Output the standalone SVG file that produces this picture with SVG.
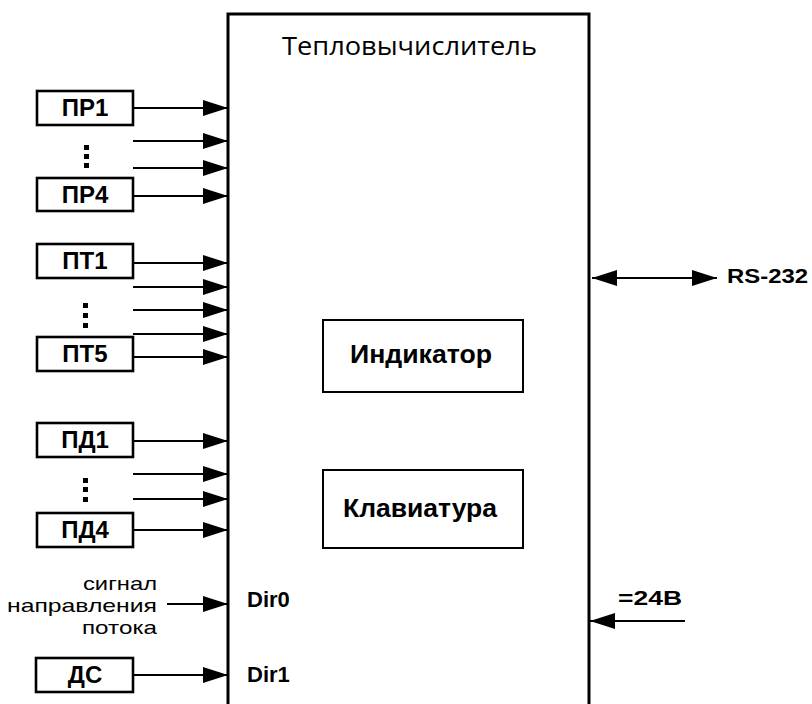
<svg xmlns="http://www.w3.org/2000/svg" width="812" height="704" viewBox="0 0 812 704">
<defs>
<marker id="ah" markerUnits="userSpaceOnUse" markerWidth="26" markerHeight="18" refX="25" refY="8" orient="auto-start-reverse" viewBox="0 0 26 16">
<path d="M0,0 L25,8 L0,16 Z" fill="#000"/>
</marker>
<style>
.box{fill:#fff;stroke:#000;stroke-width:2.6}
.ibox{fill:#fff;stroke:#000;stroke-width:2}
.main{fill:#fff;stroke:#000;stroke-width:3}
.lbl{font-family:"Liberation Sans",Arial,sans-serif;font-weight:bold;font-size:24px;fill:#000;text-anchor:middle}
.blbl{font-family:"Liberation Sans",Arial,sans-serif;font-weight:bold;font-size:21px;fill:#000}
.title{font-family:"Open Sans","Noto Sans",sans-serif;font-size:25px;fill:#000;text-anchor:middle}
.sig{font-family:"Liberation Sans",Arial,sans-serif;font-size:19px;fill:#000;text-anchor:end}
.c{fill:none;stroke:#000;stroke-width:1.8;marker-end:url(#ah)}
.dot{fill:#000}
</style>
</defs>
<g id="main">
<path class="main" d="M228,720 L228,14 L589,14 L589,720"/>
<text class="title" x="409.5" y="55" textLength="255" lengthAdjust="spacingAndGlyphs">Тепловычислитель</text>
<text class="blbl" x="247" y="607" style="font-size:22px">Dir0</text>
<text class="blbl" x="247" y="682" style="font-size:22px">Dir1</text>
</g>
<g id="indicator">
<rect class="ibox" x="323" y="320" width="200" height="72"/>
<text class="lbl" x="421" y="363" style="font-size:25px" textLength="142" lengthAdjust="spacingAndGlyphs">Индикатор</text>
</g>
<g id="keyboard">
<rect class="ibox" x="323" y="470" width="200" height="78"/>
<text class="lbl" x="420" y="517" style="font-size:25px" textLength="154" lengthAdjust="spacingAndGlyphs">Клавиатура</text>
</g>
<g id="pr1"><rect class="box" x="37" y="91" width="96" height="34"/><text class="lbl" x="85" y="116">ПР1</text></g>
<g id="pr-dots"><rect class="dot" x="84" y="145" width="5" height="5"/><rect class="dot" x="84" y="154" width="5" height="5"/><rect class="dot" x="84" y="163" width="5" height="5"/></g>
<g id="pr4"><rect class="box" x="37" y="178" width="96" height="33"/><text class="lbl" x="85" y="203">ПР4</text></g>
<g id="pt1"><rect class="box" x="37" y="244" width="96" height="34"/><text class="lbl" x="85" y="269">ПТ1</text></g>
<g id="pt-dots"><rect class="dot" x="83" y="303" width="5" height="5"/><rect class="dot" x="83" y="313" width="5" height="5"/><rect class="dot" x="83" y="323" width="5" height="5"/></g>
<g id="pt5"><rect class="box" x="37" y="337" width="96" height="34"/><text class="lbl" x="85" y="362">ПТ5</text></g>
<g id="pd1"><rect class="box" x="37" y="423" width="96" height="34"/><text class="lbl" x="85" y="448">ПД1</text></g>
<g id="pd-dots"><rect class="dot" x="83" y="478" width="5" height="5"/><rect class="dot" x="83" y="487" width="5" height="5"/><rect class="dot" x="83" y="497" width="5" height="5"/></g>
<g id="pd4"><rect class="box" x="37" y="513" width="96" height="34"/><text class="lbl" x="85" y="538">ПД4</text></g>
<g id="ds"><rect class="box" x="36" y="658" width="97" height="34"/><text class="lbl" x="85" y="683">ДС</text></g>
<g id="signal">
<text class="sig" x="157" y="590" textLength="74" lengthAdjust="spacingAndGlyphs">сигнал</text>
<text class="sig" x="157" y="612" textLength="150" lengthAdjust="spacingAndGlyphs">направления</text>
<text class="sig" x="157" y="634" textLength="75" lengthAdjust="spacingAndGlyphs">потока</text>
</g>
<g id="rs232"><text class="blbl" x="727" y="283" textLength="81" lengthAdjust="spacingAndGlyphs">RS-232</text></g>
<g id="power"><text class="blbl" x="618" y="605" textLength="64" lengthAdjust="spacingAndGlyphs">=24В</text></g>
<g id="connectors">
<line class="c" x1="133" y1="108" x2="228" y2="108"/>
<line class="c" x1="133" y1="141" x2="228" y2="141"/>
<line class="c" x1="133" y1="168" x2="228" y2="168"/>
<line class="c" x1="133" y1="196" x2="228" y2="196"/>
<line class="c" x1="133" y1="263" x2="228" y2="263"/>
<line class="c" x1="133" y1="287" x2="228" y2="287"/>
<line class="c" x1="133" y1="310" x2="228" y2="310"/>
<line class="c" x1="133" y1="334" x2="228" y2="334"/>
<line class="c" x1="133" y1="357" x2="228" y2="357"/>
<line class="c" x1="133" y1="441" x2="228" y2="441"/>
<line class="c" x1="133" y1="474" x2="228" y2="474"/>
<line class="c" x1="133" y1="499" x2="228" y2="499"/>
<line class="c" x1="133" y1="530" x2="228" y2="530"/>
<line class="c" x1="167" y1="604" x2="228" y2="604"/>
<line class="c" x1="133" y1="675" x2="228" y2="675"/>
<line class="c" x1="592" y1="278" x2="717" y2="278" style="marker-start:url(#ah)"/>
<line class="c" x1="685" y1="621" x2="590" y2="621"/>
</g>
</svg>
